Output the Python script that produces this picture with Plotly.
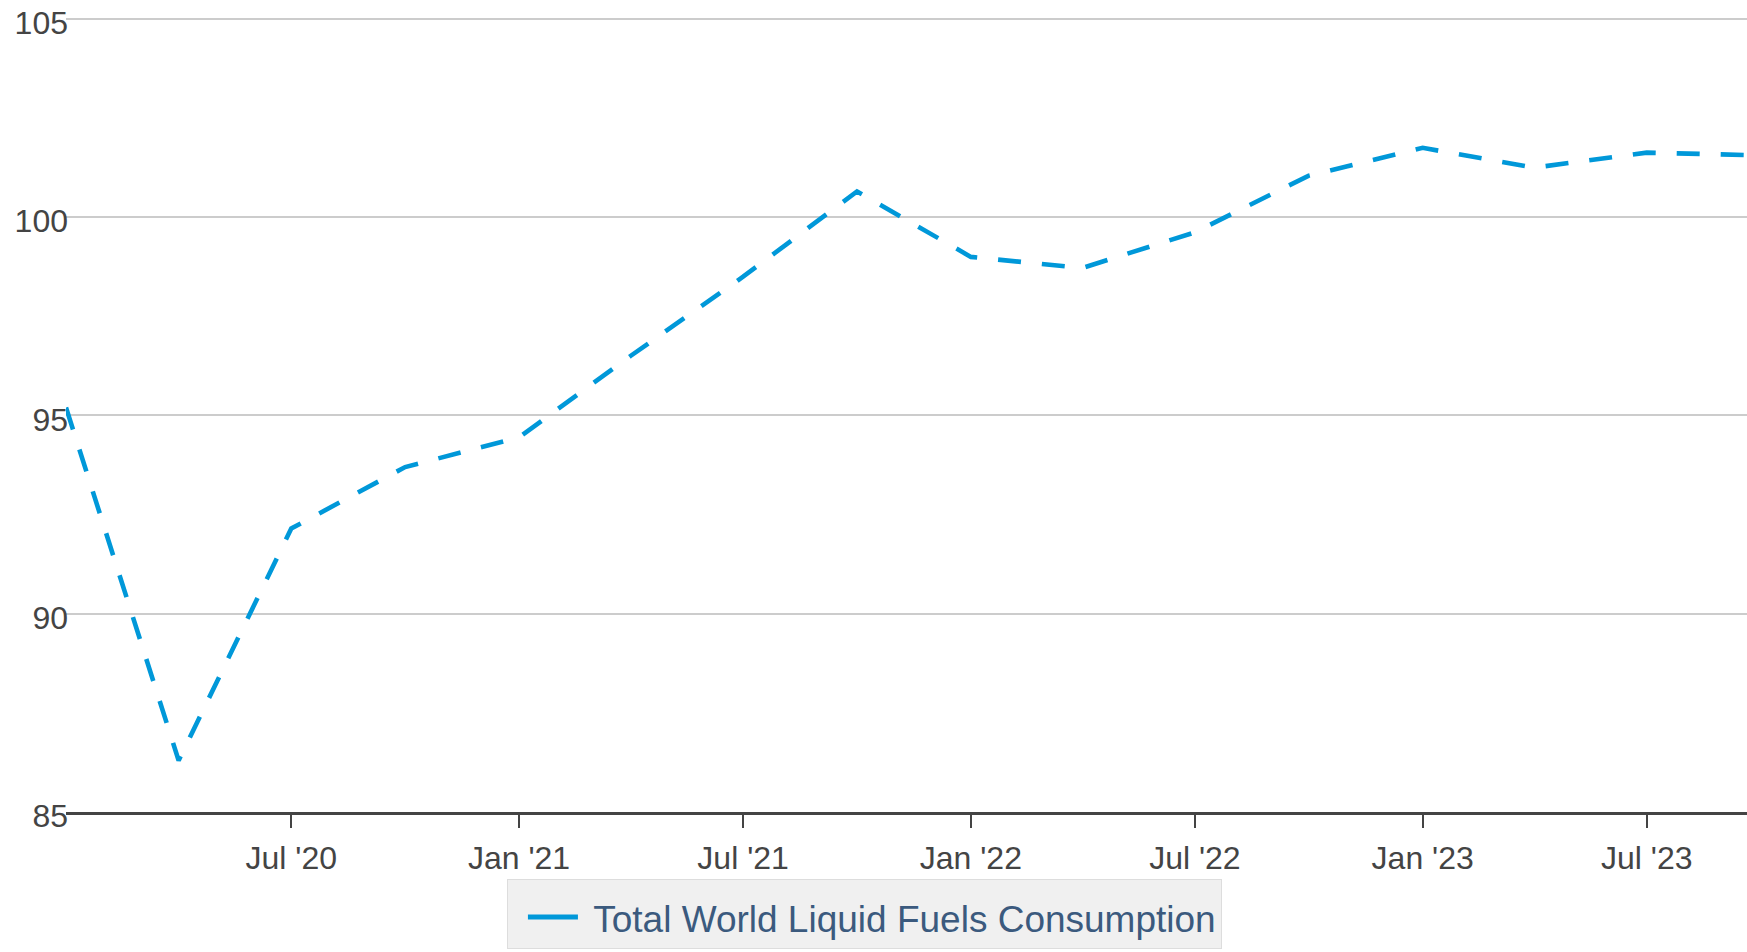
import plotly.graph_objects as go

# ---- data ----
quarters = ["2020-01-01", "2020-04-01", "2020-07-01", "2020-10-01",
            "2021-01-01", "2021-04-01", "2021-07-01", "2021-10-01",
            "2022-01-01", "2022-04-01", "2022-07-01", "2022-10-01",
            "2023-01-01", "2023-04-01", "2023-07-01", "2023-10-01"]
consumption = [95.2, 86.3, 92.15, 93.7,
               94.45, 96.5, 98.5, 100.65,
               99.0, 98.72, 99.62, 101.05,
               101.75, 101.25, 101.63, 101.56]
series_name = "Total World Liquid Fuels Consumption"

x_tick_vals = ["2020-07-01", "2021-01-01", "2021-07-01", "2022-01-01",
               "2022-07-01", "2023-01-01", "2023-07-01"]
x_tick_text = ["Jul '20", "Jan '21", "Jul '21", "Jan '22",
               "Jul '22", "Jan '23", "Jul '23"]
y_tick_vals = [85, 90, 95, 100, 105]

FONT = "Liberation Sans, Arial, Helvetica, sans-serif"
LINE_COLOR = "#0098d9"

fig = go.Figure()
# the data line (dashed)
fig.add_trace(go.Scatter(
    x=quarters, y=consumption, mode="lines", name=series_name,
    line=dict(color=LINE_COLOR, width=4.6, dash="23px,21px"),
    showlegend=False,
))
# legend proxy (solid swatch, no data of its own)
fig.add_trace(go.Scatter(
    x=[None], y=[None], mode="lines", name="\u00a0" + series_name,
    line=dict(color=LINE_COLOR, width=5),
    showlegend=True,
))

fig.update_layout(
    width=1747, height=952,
    margin=dict(l=66, r=0, t=17, b=140, pad=0, autoexpand=False),
    paper_bgcolor="white", plot_bgcolor="white",
    font=dict(family=FONT, size=32, color="#444444"),
    xaxis=dict(
        type="date",
        range=["2020-01-01", "2023-09-20"],
        tickvals=x_tick_vals, ticktext=x_tick_text,
        showgrid=False, zeroline=False,
        showline=True, linecolor="#444444", linewidth=3,
        ticks="outside", ticklen=13, tickwidth=2, tickcolor="#444444",
        tickfont=dict(family=FONT, size=32, color="#444444"),
        ticklabelstandoff=3,
    ),
    yaxis=dict(
        range=[85, 105.05],
        tickvals=y_tick_vals,
        showgrid=True, gridcolor="#cccccc", gridwidth=2,
        zeroline=False, showline=False, ticks="",
        tickfont=dict(family=FONT, size=32, color="#444444"),
        ticklabeloverflow="allow",
        ticklabelshift=4,
        ticklabelstandoff=-3,
    ),
    legend=dict(
        x=0.2623, y=-0.0843, xanchor="left", yanchor="top",
        orientation="h",
        bgcolor="#f0f0f0", bordercolor="#dddddd", borderwidth=1,
        font=dict(family=FONT, size=37, color="#3b5a7e"),
        itemwidth=50,
        indentation=15,
        title=dict(text="\u00a0", side="top", font=dict(size=5)),
    ),
    hovermode=False,
)

fig.write_html("out.html", config={"displayModeBar": False},
               post_script="document.body.style.margin='0';")
